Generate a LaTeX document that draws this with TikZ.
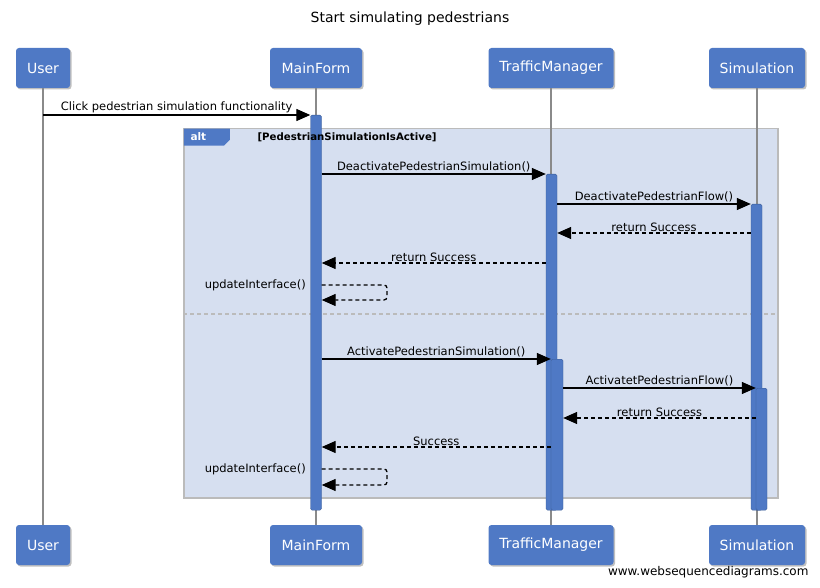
\documentclass[tikz,border=0pt]{standalone}
\usepackage{fontspec}
\setmainfont{DejaVu Sans}
\usetikzlibrary{arrows.meta,positioning,shadows}
\definecolor{headBlue}{HTML}{4F79C5}
\definecolor{frameFill}{HTML}{D6DFF0}
\definecolor{frameLine}{HTML}{BBBBBB}
\definecolor{lifeGray}{HTML}{8A8A8A}

\begin{document}
\begin{tikzpicture}[x=1pt,y=-1pt,every node/.style={font=\fontsize{11.5}{13}\selectfont}]
  \tikzstyle{head}=[fill=headBlue,rounded corners=3pt,text=white,minimum height=40pt,
                    font=\fontsize{14}{16}\selectfont,
                    drop shadow={shadow xshift=1.5pt,shadow yshift=-1.5pt,fill=black!50}]
  \tikzstyle{act}=[fill=headBlue,draw=headBlue!75!black,line width=0.4pt,
                   rounded corners=1.5pt,minimum width=11pt,anchor=north,inner sep=0pt]
  \tikzstyle{life}=[lifeGray,line width=1.2pt]
  \tikzstyle{call}=[line width=1.3pt,-{Triangle[length=14pt,width=12pt]}]
  \tikzstyle{reply}=[call,dash pattern=on 4pt off 3pt]
  \tikzstyle{lbl}=[midway,above,inner sep=1pt]

  \useasboundingbox (0,0) rectangle (820,588);

  \node[font=\fontsize{14}{16}\selectfont] (title) at (410,19) {Start simulating pedestrians};

  % participants
  \node[head,minimum width=54pt] (user) at (43,68) {User};
  \node[head,minimum width=92pt] (mf) at (316,68) {MainForm};
  \node[head,minimum width=125pt] (tm) at (551,68) {TrafficManager};
  \node[head,minimum width=96pt] (sim) at (757,68) {Simulation};
  \node[head,minimum width=54pt] (userB) at (43,545) {User};
  \node[head,minimum width=92pt] (mfB) at (316,545) {MainForm};
  \node[head,minimum width=125pt] (tmB) at (551,545) {TrafficManager};
  \node[head,minimum width=96pt] (simB) at (757,545) {Simulation};

  % alt frame
  \node[fill=frameFill,draw=frameLine,line width=1.5pt,anchor=north west,inner sep=0pt,
        minimum width=594pt,minimum height=369pt] (alt) at (183,128) {};
  \draw[frameLine,line width=1.2pt,dash pattern=on 4pt off 3pt] (alt.west |- 0,314) -- (alt.east |- 0,314);

  % lifelines
  \draw[life] (user) -- (userB);
  \draw[life] (mf) -- (mfB);
  \draw[life] (tm) -- (tmB);
  \draw[life] (sim) -- (simB);

  % activations
  \node[act,minimum height=395pt] (mfAct) at (316,115) {};
  \node[act,minimum height=336pt] (tmAct1) at (551.5,174) {};
  \node[act,minimum height=306pt] (simAct1) at (756.5,204) {};
  \node[act,minimum height=151pt,minimum width=12pt] (tmAct2) at (557,359) {};
  \node[act,minimum height=122pt] (simAct2) at (761.5,388) {};

  % frame tab and guard on top of the bars
  \fill[headBlue] ([shift={(0.75,0.75)}]alt.north west) -- ++(46,0) -- ++(0,11) -- ++(-6,6) -- ++(-40,0) -- cycle;
  \node[text=white,font=\fontsize{10.5}{12}\selectfont\bfseries,anchor=west] (altTag) at (187,137) {alt};
  \node[font=\fontsize{10.2}{12}\selectfont\bfseries,anchor=west] (altCond) at (254,137) {[PedestrianSimulationIsActive]};

  % messages
  \draw[call] (user |- mfAct.north) -- (mfAct.north west)
    node[lbl] {Click pedestrian simulation functionality};
  \draw[call] (mfAct.east |- tmAct1.north) -- (tmAct1.north west)
    node[lbl] {DeactivatePedestrianSimulation()};
  \draw[call] (tmAct1.east |- simAct1.north) -- (simAct1.north west)
    node[lbl] {DeactivatePedestrianFlow()};
  \draw[reply] (simAct1.west |- 0,233) -- (tmAct1.east |- 0,233)
    node[lbl] {return Success};
  \draw[reply] (tmAct1.west |- 0,263) -- (mfAct.east |- 0,263)
    node[lbl] {return Success};
  \draw[reply,rounded corners=3pt] (mfAct.east |- 0,285) -- (387,285) -- (387,300) -- (mfAct.east |- 0,300);
  \node[anchor=east] (upd1) at ([xshift=-1pt]mfAct.west |- 0,285) {updateInterface()};

  \draw[call] (mfAct.east |- tmAct2.north) -- (tmAct2.north west)
    node[lbl] {ActivatePedestrianSimulation()};
  \draw[call] (tmAct2.east |- simAct2.north) -- (simAct2.north west)
    node[lbl] {ActivatetPedestrianFlow()};
  \draw[reply] (simAct2.west |- 0,418) -- (tmAct2.east |- 0,418)
    node[lbl] {return Success};
  \draw[reply] (tmAct2.west |- 0,447) -- (mfAct.east |- 0,447)
    node[lbl] {Success};
  \draw[reply,rounded corners=3pt] (mfAct.east |- 0,469) -- (387,469) -- (387,485) -- (mfAct.east |- 0,485);
  \node[anchor=east] (upd2) at ([xshift=-1pt]mfAct.west |- 0,469) {updateInterface()};

  \node[anchor=east,font=\fontsize{12}{14}\selectfont] (wsd) at (812,572) {www.websequencediagrams.com};
\end{tikzpicture}
\end{document}
